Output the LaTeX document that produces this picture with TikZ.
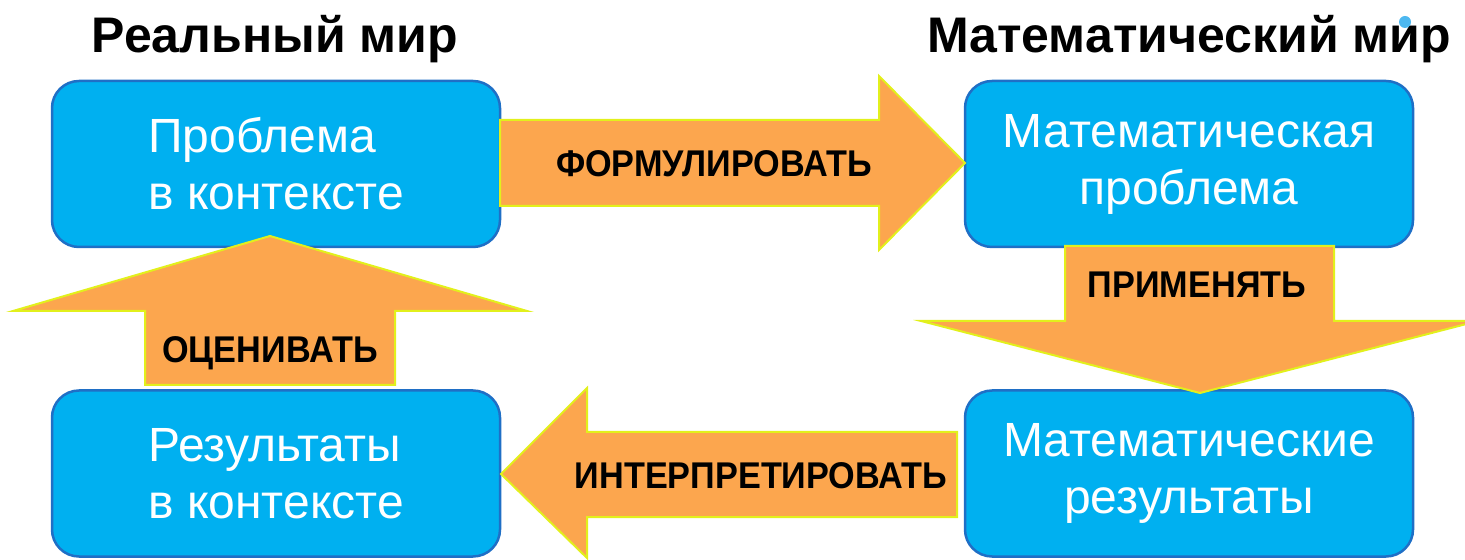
\documentclass[tikz,border=0pt]{standalone}
\usepackage{fontspec}
\setmainfont{Liberation Sans}
\newfontfamily\lblfont{Liberation Sans}[FakeStretch=0.92]
\definecolor{boxblue}{HTML}{00B0F0}
\definecolor{boxedge}{HTML}{1F6FC6}
\definecolor{arrowfill}{HTML}{FCA64E}
\definecolor{arrowedge}{HTML}{E2F01C}
\definecolor{dotblue}{HTML}{4DB8F0}
\begin{document}
\begin{tikzpicture}[x=0.5pt,y=-0.5pt,
  mbox/.style={draw=boxedge, line width=1.25pt, fill=boxblue, rounded corners=13.5pt,
    minimum width=224pt, minimum height=83pt, text=white, inner sep=0pt,
    font=\fontsize{24}{28.5}\selectfont},
  blockarrow/.style={draw=arrowedge, line width=1pt, fill=arrowfill, line join=miter},
  lbl/.style={anchor=base, inner sep=0pt, font=\lblfont\bfseries\fontsize{18.6}{21}\selectfont},
  titletext/.style={anchor=base, inner sep=0pt, font=\bfseries\fontsize{25}{30}\selectfont}]
\useasboundingbox (0,0) rectangle (1465,560);
% titles
\node[titletext] (treal) at (275,53) {Реальный мир};
\node[titletext] (tmath) at (1189,53) {Математический мир};
\fill[dotblue] (1405,22) circle[radius=6];
% boxes
\node[mbox, align=left] (prob) at (276,164) {Проблема\\в контексте};
\node[mbox, align=center] (mprob) at (1189,164) {Математическая\\проблема};
\node[mbox, align=center] (mres) at (1189,473.5) {Математические\\результаты};
\node[mbox, align=left] (res) at (276,473.5) {Результаты\\в контексте};
% block arrows
\draw[blockarrow] (500,120) -- (879,120) -- (879,76) -- (965,163) -- (879,250) -- (879,206) -- (500,206) -- cycle;
\draw[blockarrow] (1065,246) -- (1334,246) -- (1334,321) -- (1478,321) -- (1200,393) -- (921,321) -- (1065,321) -- cycle;
\draw[blockarrow] (957,432) -- (587,432) -- (587,388) -- (501,474) -- (587,558) -- (587,517) -- (957,517) -- cycle;
\draw[blockarrow] (145,385) -- (145,311) -- (13,311) -- (270,236) -- (527,311) -- (395,311) -- (395,385) -- cycle;
% labels
\node[lbl] (lf) at (714,177) {ФОРМУЛИРОВАТЬ};
\node[lbl] (la) at (1197,298) {ПРИМЕНЯТЬ};
\node[lbl] (lo) at (270,363) {ОЦЕНИВАТЬ};
\node[lbl] (li) at (761,488) {ИНТЕРПРЕТИРОВАТЬ};
\end{tikzpicture}
\end{document}
